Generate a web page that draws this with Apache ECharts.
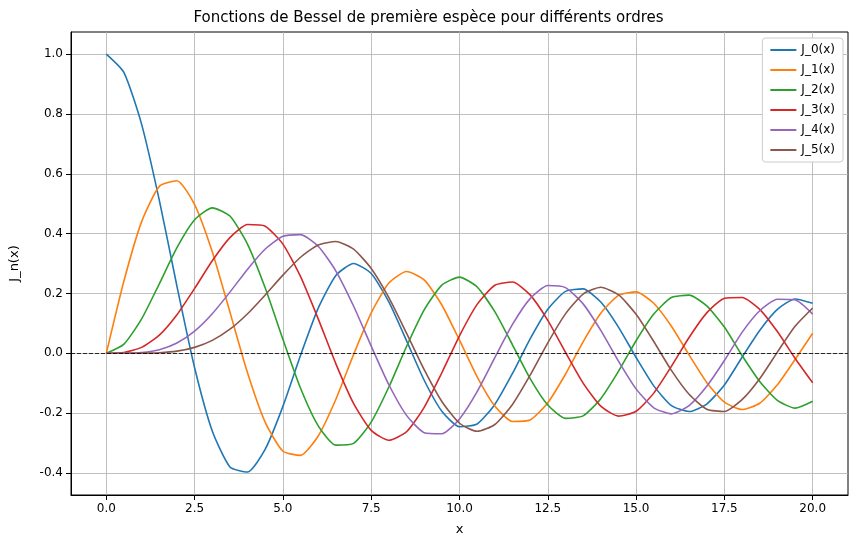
<!DOCTYPE html>
<html>
<head>
  <meta charset="utf-8">
  <title>Bessel</title>
  <script src="https://cdn.jsdelivr.net/npm/echarts/dist/echarts.min.js"></script>
  <style>
    html, body { margin: 0; padding: 0; background: #fff; }
    #chart { width: 857px; height: 548px; }
  </style>
</head>
<body>
  <div id="chart"></div>
  <script>
    // x positions (step 0.5)
    const xs = [0, 0.5, 1, 1.5, 2, 2.5, 3, 3.5, 4, 4.5, 5, 5.5, 6, 6.5, 7, 7.5, 8, 8.5, 9, 9.5, 10,
      10.5, 11, 11.5, 12, 12.5, 13, 13.5, 14, 14.5, 15, 15.5, 16, 16.5, 17, 17.5, 18, 18.5, 19, 19.5, 20];

    const j0 = [1, 0.9385, 0.7652, 0.5118, 0.2239, -0.0484, -0.2601, -0.3801, -0.3971, -0.3205, -0.1776, -0.0068, 0.1506, 0.2601, 0.3001, 0.2663, 0.1717, 0.0419, -0.0903, -0.1939, -0.2459,
      -0.2366, -0.1712, -0.0677, 0.0477, 0.1469, 0.2069, 0.2150, 0.1711, 0.0875, -0.0142, -0.1092, -0.1749, -0.1950, -0.1699, -0.1061, -0.0134, 0.0762, 0.1466, 0.1814, 0.1670];
    const j1 = [0, 0.2423, 0.4401, 0.5579, 0.5767, 0.4971, 0.3391, 0.1374, -0.0660, -0.2311, -0.3276, -0.3414, -0.2767, -0.1538, -0.0047, 0.1352, 0.2346, 0.2731, 0.2453, 0.1613, 0.0435,
      -0.0789, -0.1768, -0.2284, -0.2234, -0.1655, -0.0703, 0.0380, 0.1334, 0.1934, 0.2051, 0.1672, 0.0904, -0.0054, -0.0977, -0.1636, -0.1880, -0.1672, -0.1057, -0.0211, 0.0668];
    const j2 = [0, 0.0306, 0.1149, 0.2321, 0.3528, 0.4461, 0.4861, 0.4586, 0.3641, 0.2178, 0.0466, -0.1173, -0.2429, -0.3074, -0.3014, -0.2302, -0.1130, 0.0224, 0.1448, 0.2279, 0.2546,
      0.2216, 0.1390, 0.0280, -0.0849, -0.1734, -0.2177, -0.2094, -0.1520, -0.0608, 0.0416, 0.1308, 0.1862, 0.1943, 0.1584, 0.0874, -0.0075, -0.0943, -0.1578, -0.1836, -0.1603];
    const j3 = [0, 0.0026, 0.0196, 0.0604, 0.1289, 0.2167, 0.3091, 0.3867, 0.4302, 0.4247, 0.3648, 0.2561, 0.1148, -0.0354, -0.1676, -0.2580, -0.2911, -0.2626, -0.1809, -0.0653, 0.0584,
      0.1633, 0.2273, 0.2381, 0.1951, 0.1100, 0.0033, -0.1000, -0.1768, -0.2102, -0.1940, -0.1334, -0.0438, 0.0525, 0.1349, 0.1836, 0.1863, 0.1468, 0.0725, -0.0166, -0.0989];
    const j4 = [0, 0.0002, 0.0025, 0.0117, 0.0340, 0.0737, 0.1320, 0.2043, 0.2811, 0.3485, 0.3912, 0.3967, 0.3576, 0.2747, 0.1578, 0.0238, -0.1054, -0.2078, -0.2655, -0.2691, -0.2196,
      -0.1283, -0.0150, 0.0962, 0.1825, 0.2262, 0.2193, 0.1650, 0.0762, -0.0262, -0.1192, -0.1824, -0.2026, -0.1752, -0.1107, -0.0244, 0.0696, 0.1419, 0.1806, 0.1785, 0.1307];
    const j5 = [0, 0, 0.0002, 0.0018, 0.0070, 0.0196, 0.0430, 0.0803, 0.1321, 0.1949, 0.2611, 0.3209, 0.3621, 0.3735, 0.3479, 0.2834, 0.1858, 0.0670, -0.0550, -0.1613, -0.2341,
      -0.2611, -0.2383, -0.1712, -0.0735, 0.0348, 0.1316, 0.1978, 0.2204, 0.1957, 0.1301, 0.0393, -0.0575, -0.1374, -0.1870, -0.1948, -0.1554, -0.0854, 0.0036, 0.0898, 0.1512];

    const names = ['J_0(x)', 'J_1(x)', 'J_2(x)', 'J_3(x)', 'J_4(x)', 'J_5(x)'];
    const colors = ['#1f77b4', '#ff7f0e', '#2ca02c', '#d62728', '#9467bd', '#8c564b'];
    const xTicks = [0, 2.5, 5, 7.5, 10, 12.5, 15, 17.5, 20];
    const yTicks = [-0.4, -0.2, 0, 0.2, 0.4, 0.6, 0.8, 1.0];

    const font = 'DejaVu Sans';
    const chart = echarts.init(document.getElementById('chart'));

    const series = [j0, j1, j2, j3, j4, j5].map((ys, i) => ({
      name: names[i],
      type: 'line',
      data: xs.map((x, k) => [x, ys[k]]),
      showSymbol: false,
      smooth: 0.2,
      lineStyle: { width: 1.6, color: colors[i] },
      itemStyle: { color: colors[i] },
      z: 3
    }));
    // horizontal dashed line at y = 0
    series[0].markLine = {
      silent: true, symbol: 'none', label: { show: false },
      lineStyle: { color: '#000', type: [4, 2], width: 0.8 },
      data: [{ yAxis: 0 }]
    };

    chart.setOption({
      animation: false,
      title: {
        text: 'Fonctions de Bessel de première espèce pour différents ordres',
        left: 'center', top: 6,
        textStyle: { fontFamily: font, fontSize: 15, fontWeight: 'normal', color: '#000' }
      },
      legend: {
        orient: 'vertical', right: 14, top: 38,
        itemWidth: 26, itemHeight: 2, itemGap: 8,
        icon: 'rect',
        backgroundColor: '#fff', borderColor: '#ccc', borderWidth: 1, borderRadius: 3,
        padding: [6, 8, 6, 8],
        textStyle: { fontFamily: font, fontSize: 12, color: '#000' }
      },
      grid: { left: 70, right: 9, top: 32, bottom: 53, show: true, borderColor: '#000', borderWidth: 1 },
      xAxis: {
        type: 'value', min: -1, max: 21,
        name: 'x', nameLocation: 'middle', nameGap: 28,
        nameTextStyle: { fontFamily: font, fontSize: 13, color: '#000' },
        axisLine: { onZero: false, lineStyle: { color: '#000' } },
        axisTick: { customValues: xTicks, lineStyle: { color: '#000' } },
        axisLabel: { customValues: xTicks, fontFamily: font, fontSize: 12, color: '#000',
          formatter: v => v.toFixed(1) },
        splitLine: { show: true, lineStyle: { color: '#b0b0b0', width: 0.8 } }
      },
      yAxis: {
        type: 'value', min: -0.474, max: 1.074,
        name: 'J_n(x)', nameLocation: 'middle', nameGap: 50, nameRotate: 90,
        nameTextStyle: { fontFamily: font, fontSize: 13, color: '#000' },
        axisLine: { show: true, onZero: false, lineStyle: { color: '#000' } },
        axisTick: { show: true, customValues: yTicks, lineStyle: { color: '#000' } },
        axisLabel: { customValues: yTicks, fontFamily: font, fontSize: 12, color: '#000',
          formatter: v => v.toFixed(1) },
        splitLine: { show: true, lineStyle: { color: '#b0b0b0', width: 0.8 } }
      },
      series: series
    });
  </script>
</body>
</html>
